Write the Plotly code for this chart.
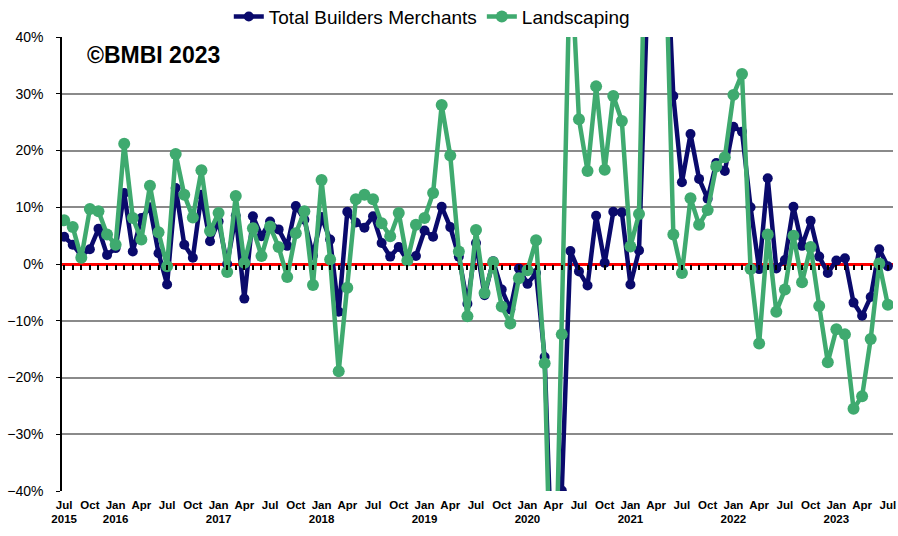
import plotly.graph_objects as go

# Year-on-year % change, monthly from Jul 2015 to Jul 2023
total_builders_merchants = [
    4.8, 3.4, 1.5, 2.6, 6.2, 1.6, 2.8, 12.5, 2.2, 8.1, 10.0, 1.9,
    -3.6, 13.4, 3.4, 1.1, 12.2, 4.0, 7.5, 0.0, 8.5, -6.1, 8.4, 4.9,
    7.5, 6.1, 3.2, 10.2, 7.8, 1.5, 8.3, 4.3, -8.4, 9.2, 7.3, 6.4,
    8.4, 3.7, 1.3, 3.0, 0.6, 1.4, 5.9, 4.8, 10.1, 6.5, 1.3, -7.0,
    3.7, -5.5, 0.5, -4.5, -8.0, -0.8, -3.5, -1.6, -16.4, -60.0, -39.9, 2.3,
    -1.3, -3.8, 8.5, 0.2, 9.2, 9.1, -3.6, 2.4, 48.0, 110.0, 63.0, 29.6,
    14.4, 22.9, 15.0, 11.5, 17.8, 16.4, 24.2, 23.3, 10.0, -0.9, 15.1, -0.8,
    0.7, 10.1, 3.2, 7.6, 1.3, -1.6, 0.6, 1.0, -6.8, -9.1, -5.8, 2.6,
    -0.4,
]
landscaping = [
    7.7, 6.5, 1.1, 9.7, 9.3, 5.2, 3.4, 21.2, 8.1, 4.3, 13.8, 5.6,
    -0.4, 19.4, 12.2, 8.2, 16.5, 5.8, 9.0, -1.4, 12.0, 0.2, 6.3, 1.4,
    6.6, 3.0, -2.3, 5.4, 9.3, -3.7, 14.8, 0.8, -18.9, -4.2, 11.4, 12.2,
    11.4, 7.2, 4.9, 9.0, 0.6, 6.9, 8.1, 12.5, 28.0, 19.1, 2.2, -9.2,
    6.0, -5.1, 0.3, -7.5, -10.5, -2.5, -1.1, 4.2, -17.5, -75.0, -12.4, 56.0,
    25.5, 16.4, 31.3, 16.6, 29.6, 25.2, 3.1, 8.8, 80.0, 250.0, 60.0, 5.2,
    -1.6, 11.6, 6.9, 9.5, 17.2, 18.8, 29.8, 33.5, -0.9, -14.0, 5.2, -8.4,
    -4.5, 5.0, -3.2, 3.0, -7.4, -17.3, -11.5, -12.4, -25.5, -23.3, -13.2, 0.1,
    -7.2,
]
tick_labels = [
    "Jul<br>2015", "Oct", "Jan<br>2016", "Apr", "Jul", "Oct",
    "Jan<br>2017", "Apr", "Jul", "Oct", "Jan<br>2018", "Apr", "Jul", "Oct",
    "Jan<br>2019", "Apr", "Jul", "Oct", "Jan<br>2020", "Apr", "Jul", "Oct",
    "Jan<br>2021", "Apr", "Jul", "Oct", "Jan<br>2022", "Apr", "Jul", "Oct",
    "Jan<br>2023", "Apr", "Jul",
]

x = list(range(len(total_builders_merchants)))
tick_vals = x[::3]

NAVY = "#0a0a6c"
GREEN = "#3faa6f"
BASE_FONT = "Liberation Sans, Arial, sans-serif"

fig = go.Figure()
fig.add_trace(go.Scatter(
    x=x, y=total_builders_merchants, name="Total Builders Merchants",
    mode="lines+markers", line=dict(color=NAVY, width=4.5),
    marker=dict(color=NAVY, size=10),
))
fig.add_trace(go.Scatter(
    x=x, y=landscaping, name="Landscaping",
    mode="lines+markers", line=dict(color=GREEN, width=4.5),
    marker=dict(color=GREEN, size=12),
))
# carrier trace for the monthly tick-mark axis along the zero line
fig.add_trace(go.Scatter(x=[x[0]], y=[None], xaxis="x2", showlegend=False,
                         hoverinfo="skip", mode="lines"))

xrange = [-0.25, 96.6]
fig.update_layout(
    width=898, height=536,
    margin=dict(l=62, r=5, t=37, b=45, autoexpand=False),
    paper_bgcolor="white", plot_bgcolor="white",
    font=dict(family=BASE_FONT, color="black"),
    showlegend=True,
    legend=dict(orientation="h", x=0.445, xanchor="center", y=1.045, yanchor="middle",
                font=dict(size=19, family=BASE_FONT), itemwidth=30,
                bgcolor="rgba(0,0,0,0)"),
    xaxis=dict(range=xrange, tickmode="array", tickvals=tick_vals, ticktext=tick_labels,
               tickangle=0, showgrid=False, zeroline=False, showline=False, ticks="",
               automargin=False, ticklabeloverflow="allow",
               tickfont=dict(family=BASE_FONT, size=11.5, color="black", weight="bold"),
               ticklabelstandoff=5),
    xaxis2=dict(range=xrange, overlaying="x", anchor="free", position=0.5,
                side="bottom", tickmode="linear", tick0=0, dtick=1, automargin=False,
                ticks="outside", ticklen=5, tickwidth=2, tickcolor="black",
                showticklabels=False, showgrid=False, zeroline=False, showline=False),
    yaxis=dict(range=[-40, 40], tickmode="linear", tick0=-40, dtick=10, ticksuffix="%",
               automargin=False,
               showgrid=True, gridcolor="#8a8a8a", gridwidth=1.5,
               zeroline=True, zerolinecolor="#ff0000", zerolinewidth=3,
               showline=True, linecolor="black", linewidth=1.5,
               ticks="outside", ticklen=4, tickcolor="black", ticklabelstandoff=10,
               tickfont=dict(size=14, family=BASE_FONT, color="black")),
    annotations=[dict(text="<b>©BMBI 2023</b>", xref="paper", yref="paper",
                      x=0.028, y=0.961, xanchor="left", yanchor="middle",
                      showarrow=False, font=dict(size=23, family=BASE_FONT, color="black"))],
)

fig.write_html("out.html", config={"displayModeBar": False},
               post_script="document.body.style.margin='0px';document.body.style.overflow='hidden';")
